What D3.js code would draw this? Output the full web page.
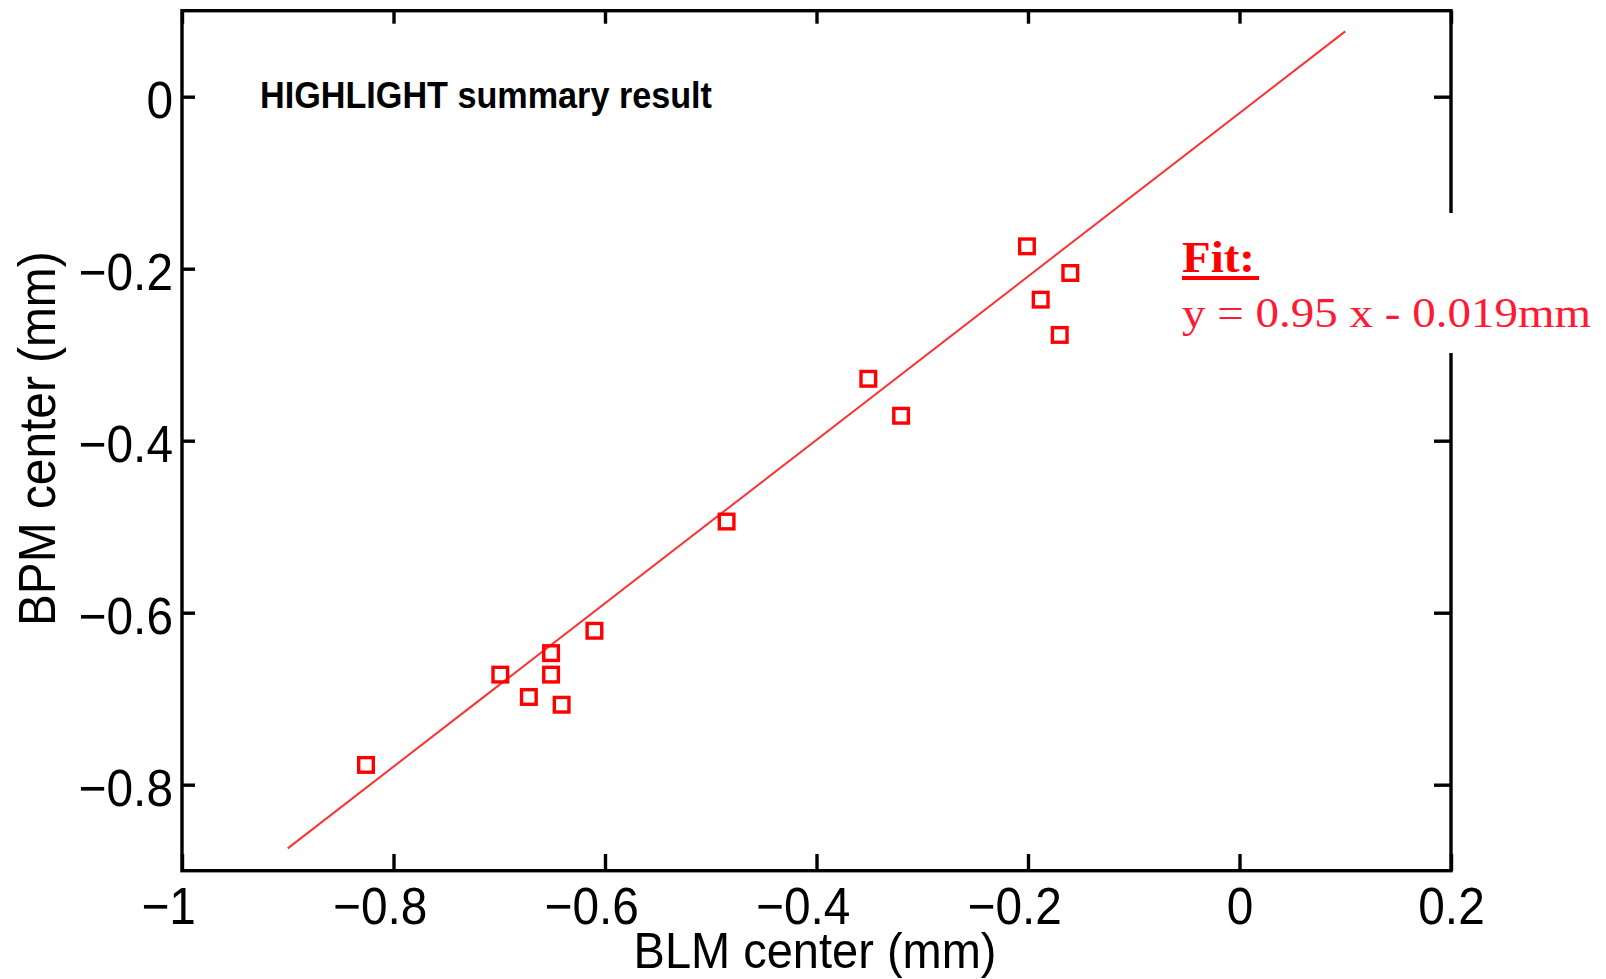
<!DOCTYPE html>
<html>
<head>
<meta charset="utf-8">
<script src="https://cdn.jsdelivr.net/npm/d3@7"></script>
<style>
  html, body { margin: 0; padding: 0; background: #fff; }
  svg { display: block; }
</style>
</head>
<body>
<svg id="chart" width="1606" height="979"></svg>
<script>
// BLM-measured beam centre vs BPM-measured beam centre (mm)
const blmCenter = [-0.826, -0.699, -0.672, -0.651, -0.651, -0.641, -0.610, -0.485, -0.351, -0.320, -0.201, -0.188, -0.170, -0.160];
const bpmCenter = [-0.777, -0.672, -0.698, -0.647, -0.672, -0.707, -0.621, -0.494, -0.328, -0.371, -0.174, -0.236, -0.277, -0.205];

// Linear fit quoted on the chart, drawn over this BLM range
const fitSlope = 0.95;
const fitIntercept = -0.019;
const fitRange = [-0.9, 0.1];

const xTicks = [-1, -0.8, -0.6, -0.4, -0.2, 0, 0.2];
const yTicks = [-0.8, -0.6, -0.4, -0.2, 0];
const xDomain = [-1, 0.2];
const yDomain = [-0.9, 0.1];

const titleText = "HIGHLIGHT summary result";
const xLabel = "BLM center (mm)";
const yLabel = "BPM center (mm)";

const svg = d3.select("#chart");
const plotL = 182, plotR = 1451, plotT = 10.7, plotB = 870.7;
const axisW = 3.4;
const sans = "'Liberation Sans', Arial, Helvetica, sans-serif";
const serif = "'Liberation Serif', 'Times New Roman', serif";
const squeeze = 0.92;

const x = d3.scaleLinear().domain(xDomain).range([plotL, plotR]);
const y = d3.scaleLinear().domain(yDomain).range([plotB, plotT]);

const fmt = d3.format("");

// fit line
const fitPts = fitRange.map(v => [v, fitSlope * v + fitIntercept]);
svg.append("path")
  .attr("d", d3.line().x(d => x(d[0])).y(d => y(d[1]))(fitPts))
  .attr("fill", "none")
  .attr("stroke", "#ff3030")
  .attr("stroke-width", 2);

// data markers
const pts = blmCenter.map((v, i) => ({ bx: v, by: bpmCenter[i] }));
const mk = 14.6;
svg.append("g").selectAll("rect").data(pts).join("rect")
  .attr("x", d => x(d.bx) - mk / 2)
  .attr("y", d => y(d.by) - mk / 2)
  .attr("width", mk).attr("height", mk)
  .attr("fill", "none")
  .attr("stroke", "#ff0000")
  .attr("stroke-width", 3.4);

// axes: inward ticks on all four sides
function styleAxis(g) {
  g.select(".domain").remove();
  g.selectAll(".tick line").attr("stroke", "#000").attr("stroke-width", axisW);
}

const gx = svg.append("g").attr("transform", `translate(0,${plotB})`)
  .call(d3.axisBottom(x).tickValues(xTicks).tickSize(-16.7).tickPadding(16.4).tickFormat(fmt))
  .call(styleAxis);
gx.selectAll(".tick text")
  .attr("font-family", sans).attr("font-size", 52).attr("fill", "#000")
  .attr("dx", d => d < 0 ? -15 : 0)
  .attr("transform", `scale(${squeeze},1)`);

const gy = svg.append("g").attr("transform", `translate(${plotL},0)`)
  .call(d3.axisLeft(y).tickValues(yTicks).tickSize(-13).tickFormat(fmt))
  .call(styleAxis);
gy.selectAll(".tick text")
  .attr("font-family", sans).attr("font-size", 52).attr("fill", "#000")
  .attr("x", -9 / squeeze).attr("dy", "0.4em")
  .attr("transform", `scale(${squeeze},1)`);

svg.append("g").attr("transform", `translate(0,${plotT})`)
  .call(d3.axisTop(x).tickValues(xTicks).tickSize(-13).tickFormat(""))
  .call(styleAxis);

svg.append("g").attr("transform", `translate(${plotR},0)`)
  .call(d3.axisRight(y).tickValues(yTicks).tickSize(-17).tickFormat(""))
  .call(styleAxis);

// plot frame
svg.append("rect")
  .attr("x", plotL).attr("y", plotT)
  .attr("width", plotR - plotL).attr("height", plotB - plotT)
  .attr("fill", "none").attr("stroke", "#000").attr("stroke-width", axisW);

// fit annotation on a white panel that sits over the right frame edge
svg.append("rect")
  .attr("x", 1172).attr("y", 213).attr("width", 434).attr("height", 140)
  .attr("fill", "#fff");
svg.append("text")
  .attr("x", 1182).attr("y", 272.3)
  .attr("font-family", serif).attr("font-weight", "bold").attr("font-size", 45)
  .attr("fill", "#ff0000")
  .attr("textLength", 73).attr("lengthAdjust", "spacingAndGlyphs")
  .text("Fit:");
svg.append("rect")
  .attr("x", 1182).attr("y", 276).attr("width", 77).attr("height", 4)
  .attr("fill", "#ff0000");
svg.append("text")
  .attr("x", 1182).attr("y", 326.7)
  .attr("font-family", serif).attr("font-size", 43)
  .attr("fill", "#ff1a33")
  .attr("textLength", 409).attr("lengthAdjust", "spacingAndGlyphs")
  .text(`y = ${fitSlope} x - ${Math.abs(fitIntercept)}mm`);

// in-plot title
svg.append("text")
  .attr("x", 260).attr("y", 107.7)
  .attr("font-family", sans).attr("font-weight", "bold").attr("font-size", 36)
  .attr("fill", "#000")
  .attr("textLength", 452).attr("lengthAdjust", "spacingAndGlyphs")
  .text(titleText);

// axis titles
svg.append("text")
  .attr("transform", `translate(${(plotL + plotR) / 2 - 1.5},967.5) scale(0.94,1)`)
  .attr("text-anchor", "middle")
  .attr("font-family", sans).attr("font-size", 50).attr("fill", "#000")
  .text(xLabel);

svg.append("text")
  .attr("transform", `translate(55,${(plotT + plotB) / 2 - 2}) rotate(-90) scale(${squeeze},1)`)
  .attr("text-anchor", "middle")
  .attr("font-family", sans).attr("font-size", 52).attr("fill", "#000")
  .text(yLabel);
</script>
</body>
</html>
